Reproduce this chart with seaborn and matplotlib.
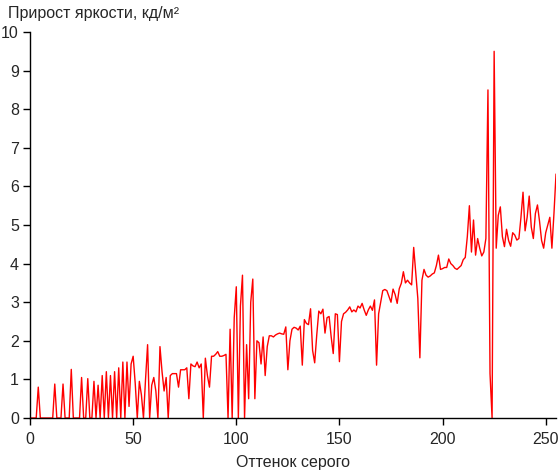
import numpy as np
import pandas as pd
import seaborn as sns
from matplotlib import pyplot as plt

# прирост яркости для каждого оттенка серого 0..255
v_0_49 = [0, 0, 0, 0, 0.8, 0, 0, 0, 0, 0,
          0, 0, 0.88, 0, 0, 0, 0.88, 0, 0, 0,
          1.26, 0, 0, 0, 0, 1.05, 0, 0, 1.02, 0,
          0, 0.95, 0, 0.85, 0, 1.1, 0, 1.2, 0, 1.1,
          0, 1.2, 0, 1.3, 0, 1.45, 0, 1.45, 0.3, 1.4]
v_50_99 = [1.6, 0.9, 0, 0.95, 0.6, 0, 1.0, 1.9, 0, 0.85,
           1.05, 0.7, 0, 1.85, 1.2, 0.7, 1.05, 0, 1.1, 1.15,
           1.15, 1.15, 0.8, 1.25, 1.25, 1.25, 1.3, 0.5, 1.4, 1.35,
           1.33, 1.45, 1.3, 1.4, 0, 1.55, 1.1, 0.8, 1.6, 1.6,
           1.65, 1.72, 1.6, 1.6, 1.62, 1.65, 0, 2.3, 0, 2.6]
v_100_149 = [3.4, 0, 2.9, 3.7, 0, 1.9, 0.5, 3.0, 3.6, 0.5,
             2.0, 1.95, 1.4, 2.1, 1.1, 1.85, 2.13, 2.13, 2.1, 2.15,
             2.18, 2.2, 2.18, 2.17, 2.36, 1.25, 2.0, 2.3, 2.35, 2.33,
             2.28, 2.38, 1.37, 2.55, 2.45, 2.42, 2.83, 1.75, 1.43, 2.15,
             2.77, 2.7, 2.82, 2.2, 2.6, 2.63, 2.1, 1.67, 2.7, 2.68]
v_150_199 = [1.46, 2.5, 2.7, 2.74, 2.8, 2.88, 2.75, 2.8, 2.75, 2.9,
             2.85, 2.97, 2.8, 2.66, 2.8, 2.9, 2.79, 3.06, 1.37, 2.7,
             3.0, 3.3, 3.33, 3.3, 3.15, 3.0, 3.34, 3.2, 2.97, 3.35,
             3.49, 3.79, 3.5, 3.57, 3.5, 3.45, 4.42, 3.75, 3.1, 1.56,
             3.57, 3.85, 3.7, 3.65, 3.68, 3.73, 3.76, 3.95, 4.22, 3.85]
v_200_255 = [3.87, 3.9, 3.9, 4.12, 4.0, 3.95, 3.88, 3.85, 3.9, 3.95,
             4.1, 4.16, 4.7, 5.5, 4.3, 5.13, 4.22, 4.65, 4.4, 4.2,
             4.3, 4.65, 8.5, 1.15, 0, 9.5, 4.4, 5.25, 5.47, 4.7,
             4.44, 4.89, 4.6, 4.45, 4.8, 4.74, 4.61, 4.65, 5.2, 5.85,
             4.85, 5.2, 5.75, 4.95, 4.65, 5.3, 5.52, 5.1, 4.6, 4.4,
             4.8, 5.0, 5.2, 4.4, 5.3, 6.32]

prirost = v_0_49 + v_50_99 + v_100_149 + v_150_199 + v_200_255
ottenok = np.arange(len(prirost))
df_ = pd.DataFrame({'ottenok': ottenok, 'prirost': prirost})

sns.set_style('ticks')
plt.rcParams['font.family'] = ['Liberation Sans', 'DejaVu Sans']

fig = plt.figure(figsize=(5.6, 4.71), dpi=100)
ax = fig.add_axes([0.0536, 0.1125, 0.9393, 0.8195])
sns.lineplot(x='ottenok', y='prirost', data=df_, color='#ff0000',
             linewidth=1.0, estimator=None, ax=ax)

ax.set_xlim(0, 255)
ax.set_ylim(0, 10)
ax.set_xticks([0, 50, 100, 150, 200, 250])
ax.set_yticks(range(0, 11))
ax.tick_params(labelsize=11.5, length=5, width=1, color='black')
ax.tick_params(axis='x', pad=5)
ax.tick_params(axis='y', pad=3)
for s in ['top', 'right']:
    ax.spines[s].set_visible(False)
for s in ['left', 'bottom']:
    ax.spines[s].set_color('black')
    ax.spines[s].set_linewidth(1)

ax.set_ylabel('')
ax.set_xlabel('Оттенок серого', fontsize=11.5, labelpad=6)
fig.text(0.015, 0.988, 'Прирост яркости, кд/м²', fontsize=11.5, va='top', ha='left')

plt.savefig('out.png', dpi=100)
